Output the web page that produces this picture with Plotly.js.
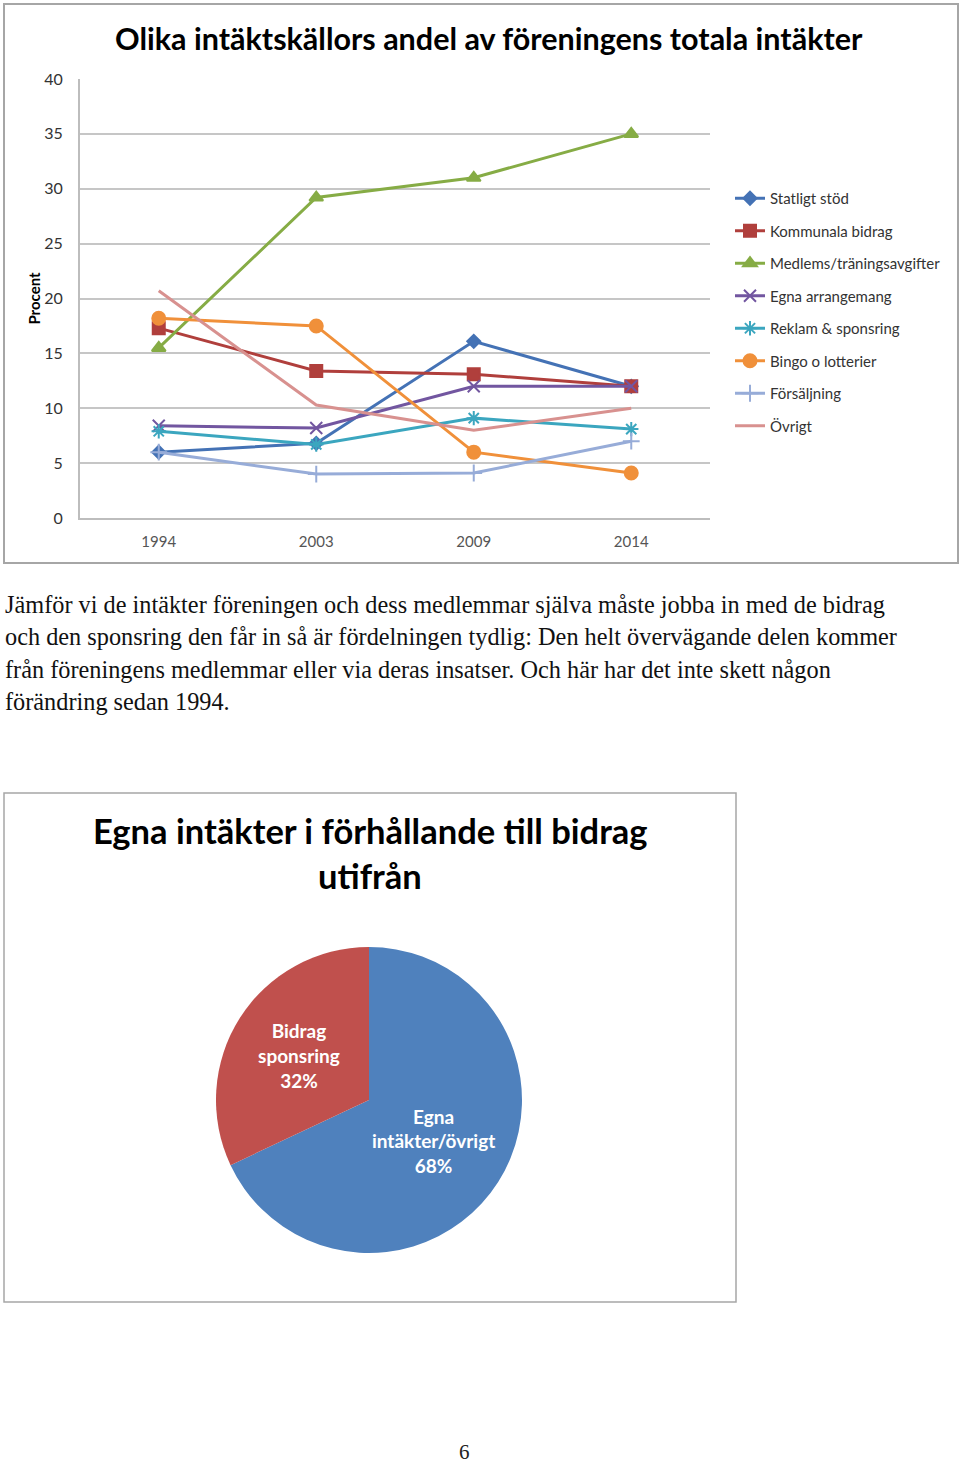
<!DOCTYPE html>
<html>
<head>
<meta charset="utf-8">
<script src="https://cdn.plot.ly/plotly-3.0.1.min.js"></script>
<style>
html,body{margin:0;padding:0;background:#fff;}
#chart{width:960px;height:1467px;}
</style>
</head>
<body>
<div id="chart"></div>
<script>
// ---- data ----
const years = ['1994', '2003', '2009', '2014'];
const seriesNames = ['Statligt stöd', 'Kommunala bidrag', 'Medlems/träningsavgifter', 'Egna arrangemang',
  'Reklam & sponsring', 'Bingo o lotterier', 'Försäljning', 'Övrigt'];
const statligtStod = [6.0, 6.8, 16.1, 12.0];
const kommunalaBidrag = [17.3, 13.4, 13.1, 12.0];
const medlemsAvgifter = [15.5, 29.2, 31.0, 35.0];
const egnaArrangemang = [8.4, 8.2, 12.0, 12.0];
const reklamSponsring = [7.9, 6.7, 9.1, 8.1];
const bingoLotterier = [18.2, 17.5, 6.0, 4.1];
const forsaljning = [6.0, 4.0, 4.1, 7.0];
const ovrigt = [20.7, 10.3, 8.0, 10.0];
const yTicks = [0, 5, 10, 15, 20, 25, 30, 35, 40];

const pieLabels = ['Egna<br>intäkter/övrigt', 'Bidrag<br>sponsring'];
const pieValues = [68, 32];

const lineTitle = 'Olika intäktskällors andel av föreningens totala intäkter';
const pieTitleLines = ['Egna intäkter i förhållande till bidrag', 'utifrån'];
const paragraphLines = [
  'Jämför vi de intäkter föreningen och dess medlemmar själva måste jobba in med de bidrag',
  'och den sponsring den får in så är fördelningen tydlig: Den helt övervägande delen kommer',
  'från föreningens medlemmar eller via deras insatser. Och här har det inte skett någon',
  'förändring sedan 1994.'
];
const pageNumber = '6';

// ---- helpers ----
const W = 960, H = 1467;
const X = p => p / W;
const Y = p => 1 - p / H;

const seriesValues = [statligtStod, kommunalaBidrag, medlemsAvgifter, egnaArrangemang,
  reklamSponsring, bingoLotterier, forsaljning, ovrigt];
const colors = ['#4472B5', '#B03F3C', '#86AC45', '#7256A0', '#3BA6BF', '#F0903A', '#97ACD8', '#D8918F'];
const symbols = ['diamond', 'square', 'triangle-up', 'x-thin-open', 'asterisk-open', 'circle', 'cross-thin-open', 'circle'];
const sizes = [10, 12, 12, 12, 12, 13, 12, 0];

const traces = seriesValues.map((vals, i) => ({
  type: 'scatter',
  mode: i === 7 ? 'lines' : 'lines+markers',
  name: seriesNames[i],
  x: years,
  y: vals,
  xaxis: 'x', yaxis: 'y',
  legendgroup: 'g' + i,
  line: {color: colors[i], width: 3},
  marker: {symbol: symbols[i], size: sizes[i], color: colors[i], line: {color: colors[i], width: 2}},
  hoverinfo: 'skip'
}));

traces.push({
  type: 'pie',
  labels: pieLabels,
  values: pieValues,
  sort: false,
  direction: 'clockwise',
  rotation: 0,
  marker: {colors: ['#4F81BD', '#C0504D']},
  textinfo: 'label+percent',
  texttemplate: '%{label}<br>%{percent:.0%}',
  textposition: 'inside',
  insidetextorientation: 'horizontal',
  insidetextfont: {family: 'Lato', size: 19, color: '#ffffff', weight: 'bold'},
  domain: {x: [X(216), X(522)], y: [Y(1253), Y(947)]},
  showlegend: false,
  hoverinfo: 'skip'
});

const annotations = [];
annotations.push({
  xref: 'paper', yref: 'paper', x: X(489), y: Y(38), xanchor: 'center', yanchor: 'middle',
  text: '<b>' + lineTitle + '</b>', showarrow: false,
  font: {family: 'Lato', size: 30.5, color: '#000'}
});
const paraY = [604, 636, 669, 701];
paragraphLines.forEach((t, i) => annotations.push({
  xref: 'paper', yref: 'paper', x: X(3), y: Y(paraY[i]), xanchor: 'left', yanchor: 'middle',
  text: t, showarrow: false,
  font: {family: 'Liberation Serif', size: 24.3, color: '#111'}
}));
const pieTitleY = [830, 875];
pieTitleLines.forEach((t, i) => annotations.push({
  xref: 'paper', yref: 'paper', x: X(370), y: Y(pieTitleY[i]), xanchor: 'center', yanchor: 'middle',
  text: '<b>' + t + '</b>', showarrow: false,
  font: {family: 'Lato', size: 34.5, color: '#000'}
}));
annotations.push({
  xref: 'paper', yref: 'paper', x: X(464), y: Y(1452), xanchor: 'center', yanchor: 'middle',
  text: pageNumber, showarrow: false, borderpad: 0,
  font: {family: 'Liberation Serif', size: 21, color: '#222'}
});

const layout = {
  width: W, height: H,
  margin: {l: 0, r: 0, t: 0, b: 0},
  paper_bgcolor: '#ffffff',
  plot_bgcolor: '#ffffff',
  showlegend: true,
  xaxis: {
    domain: [X(80), X(710)],
    type: 'category',
    range: [-0.5, 3.5],
    showgrid: false,
    showline: true, linecolor: '#BDBDBD', linewidth: 2,
    ticks: '',
    ticklabelstandoff: 9,
    tickfont: {family: 'Lato', size: 15, color: '#555'},
    zeroline: false,
    fixedrange: true
  },
  yaxis: {
    domain: [Y(518), Y(79)],
    range: [0, 40],
    tickvals: yTicks,
    ticktext: yTicks.map(String),
    showgrid: true, gridcolor: '#C6C6C6', gridwidth: 2,
    showline: true, linecolor: '#BDBDBD', linewidth: 2,
    zeroline: false,
    ticks: '',
    ticklabelstandoff: 12,
    tickfont: {family: 'Lato', size: 16, color: '#333'},
    title: {text: '<b>Procent</b>', font: {family: 'Lato', size: 15, color: '#000'}, standoff: 0},
    fixedrange: true
  },
  legend: {
    x: X(730), y: Y(182), xanchor: 'left', yanchor: 'top',
    traceorder: 'grouped',
    tracegroupgap: 10,
    font: {family: 'Lato', size: 15, color: '#333'},
    bgcolor: 'rgba(0,0,0,0)',
    itemwidth: 30
  },
  shapes: [
    {type: 'rect', xref: 'paper', yref: 'paper', x0: X(4), x1: X(958), y0: Y(563), y1: Y(4),
      line: {color: '#A6A6A6', width: 2}, layer: 'below'},
    {type: 'rect', xref: 'paper', yref: 'paper', x0: X(4), x1: X(736), y0: Y(1302), y1: Y(793),
      line: {color: '#A6A6A6', width: 1.5}, layer: 'below'}
  ],
  annotations: annotations
};

Plotly.newPlot('chart', traces, layout, {displayModeBar: false, staticPlot: true});
</script>
</body>
</html>
